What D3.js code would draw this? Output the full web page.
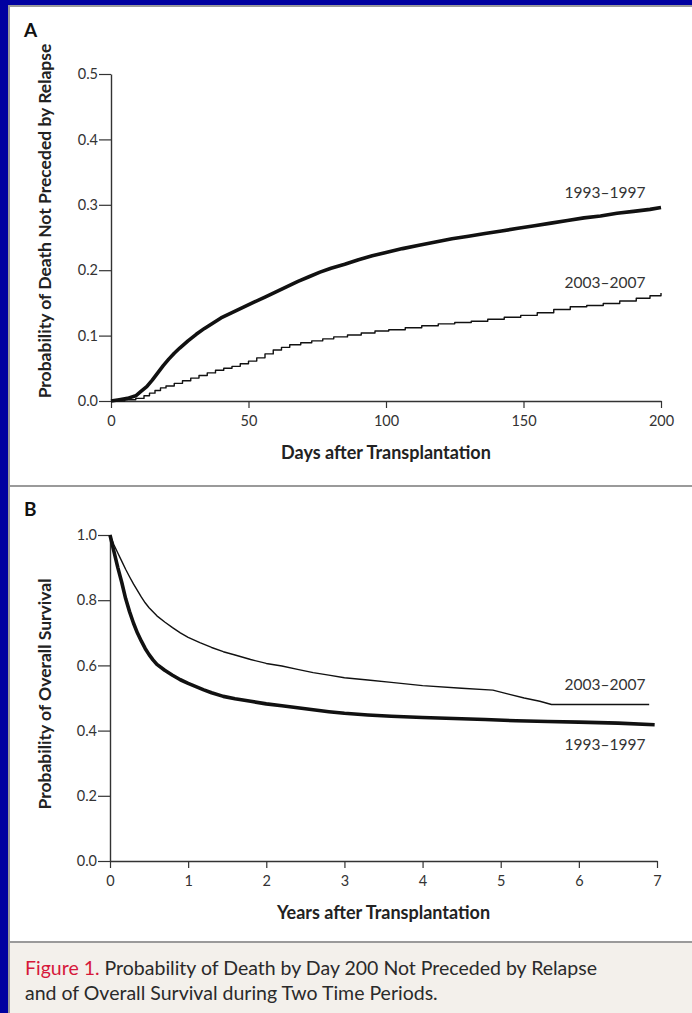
<!DOCTYPE html>
<html><head><meta charset="utf-8">
<script src="https://cdn.jsdelivr.net/npm/d3@7"></script>
<style>body{margin:0;padding:0;background:#0000a0;}svg{display:block;}</style>
</head><body>
<script>
// ---- Data ----
const daysA   = [0,3,6,9,11,13,15,17,19,21,23,25,28,31,34,37,40,44,48,52,56,60,64,68,72,76,80,85,90,95,100,106,112,118,124,130,136,142,148,154,160,166,172,178,184,190,196,200];
const a1993   = [0,0.002,0.004,0.008,0.015,0.022,0.032,0.043,0.054,0.064,0.073,0.081,0.092,0.102,0.111,0.119,0.127,0.135,0.143,0.151,0.159,0.167,0.175,0.183,0.19,0.197,0.203,0.209,0.216,0.222,0.227,0.233,0.238,0.243,0.248,0.252,0.256,0.26,0.264,0.268,0.272,0.276,0.28,0.283,0.287,0.29,0.293,0.296];
const daysA2  = [0,5,9,12,14,16,18,20,23,26,29,32,35,38,41,44,47,50,53,56,59,62,65,69,73,77,81,86,91,96,101,107,113,119,125,131,137,143,149,155,161,167,173,179,185,191,196,200];
const a2003   = [0,0.002,0.004,0.008,0.012,0.016,0.02,0.023,0.027,0.031,0.035,0.039,0.043,0.047,0.05,0.053,0.057,0.061,0.066,0.072,0.078,0.082,0.086,0.089,0.092,0.095,0.098,0.101,0.104,0.107,0.109,0.112,0.115,0.118,0.12,0.122,0.125,0.128,0.131,0.135,0.14,0.144,0.146,0.149,0.153,0.157,0.161,0.165];

const yearsB1 = [0,0.05,0.1,0.15,0.2,0.25,0.3,0.35,0.4,0.45,0.5,0.55,0.6,0.7,0.8,0.9,1.0,1.1,1.2,1.3,1.45,1.6,1.8,2.0,2.2,2.4,2.6,2.8,3.0,3.3,3.6,4.0,4.4,4.8,5.2,5.6,6.0,6.5,6.97];
const b1993   = [1,0.95,0.9,0.855,0.805,0.765,0.73,0.7,0.675,0.652,0.633,0.617,0.603,0.585,0.57,0.556,0.545,0.535,0.525,0.516,0.505,0.498,0.49,0.482,0.476,0.47,0.464,0.458,0.453,0.448,0.444,0.44,0.437,0.434,0.43,0.428,0.426,0.423,0.418];
const yearsB2 = [0,0.05,0.1,0.15,0.2,0.25,0.3,0.35,0.4,0.45,0.5,0.6,0.7,0.8,0.9,1.0,1.15,1.3,1.45,1.6,1.8,2.0,2.2,2.4,2.6,2.8,3.0,3.3,3.6,4.0,4.5,4.9,5.1,5.3,5.5,5.65,6.9];
const b2003   = [1,0.97,0.945,0.92,0.895,0.872,0.85,0.83,0.81,0.792,0.777,0.752,0.733,0.716,0.7,0.686,0.67,0.655,0.642,0.632,0.618,0.606,0.598,0.588,0.578,0.57,0.562,0.555,0.548,0.538,0.53,0.524,0.512,0.5,0.49,0.48,0.48];

const ticksA_x = [0,50,100,150,200];
const ticksA_y = [0,0.1,0.2,0.3,0.4,0.5];
const ticksB_x = [0,1,2,3,4,5,6,7];
const ticksB_y = [0,0.2,0.4,0.6,0.8,1.0];
const seriesNames = ["1993\u20131997","2003\u20132007"];

// ---- Drawing ----
const W=692,H=1013;
const FONT="Lato, 'Open Sans', sans-serif";
const svg=d3.select("body").append("svg").attr("width",W).attr("height",H);
svg.append("rect").attr("width",W).attr("height",H).attr("fill","#0000a0");
svg.append("rect").attr("x",8).attr("y",5).attr("width",W-8).attr("height",H-5).attr("fill","#fff");
svg.append("rect").attr("x",9).attr("y",942).attr("width",W-9).attr("height",H-942).attr("fill","#f3f0eb");
svg.append("line").attr("x1",9).attr("x2",W).attr("y1",6).attr("y2",6).attr("stroke","#9a9a9a").attr("stroke-width",2);
svg.append("line").attr("x1",9).attr("x2",9).attr("y1",5).attr("y2",H).attr("stroke","#9a9a9a").attr("stroke-width",2);
svg.append("line").attr("x1",9).attr("x2",W).attr("y1",486).attr("y2",486).attr("stroke","#9a9a9a").attr("stroke-width",2);
svg.append("line").attr("x1",9).attr("x2",W).attr("y1",942).attr("y2",942).attr("stroke","#9a9a9a").attr("stroke-width",2);

function panel(opts){
  const g=svg.append("g");
  const x=d3.scaleLinear().domain(opts.xd).range(opts.xr);
  const y=d3.scaleLinear().domain(opts.yd).range(opts.yr);
  const ax=g.append("g").attr("transform",`translate(0,${opts.yr[0]})`)
    .call(d3.axisBottom(x).tickValues(opts.xt).tickSize(7).tickSizeOuter(0).tickFormat(d3.format("d")));
  const ay=g.append("g").attr("transform",`translate(${opts.xr[0]},0)`)
    .call(d3.axisLeft(y).tickValues(opts.yt).tickSize(12).tickSizeOuter(0).tickFormat(d3.format(".1f")));
  [ax,ay].forEach(a=>{
    a.select(".domain").attr("stroke","#333").attr("stroke-width",1.4);
    a.selectAll(".tick line").attr("stroke","#333").attr("stroke-width",1.2);
    a.selectAll("text").attr("font-family",FONT).attr("font-size",14.5).attr("fill","#333");
  });
  ax.selectAll("text").attr("dy","1.0em");
  ay.selectAll("text").attr("x",-13);
  opts.series.forEach(s=>{
    const line=d3.line().x(d=>x(d[0])).y(d=>y(d[1])).curve(s.step?d3.curveStepAfter:d3.curveLinear);
    g.append("path").datum(d3.zip(s.x,s.y)).attr("d",line).attr("fill","none")
      .attr("stroke","#111").attr("stroke-width",s.w).attr("stroke-linejoin","round");
    g.append("text").attr("x",s.lx).attr("y",s.ly).attr("text-anchor","middle")
      .attr("font-family",FONT).attr("font-size",15.5).attr("fill","#333").text(s.name);
  });
  g.append("text").attr("x",(opts.xr[0]+opts.xr[1])/2).attr("y",opts.xlabY).attr("text-anchor","middle")
    .attr("font-family",FONT).attr("font-weight","bold").attr("font-size",18).attr("fill","#222").text(opts.xlab);
  g.append("text").attr("transform",`translate(${opts.ylabX},${opts.ylabC}) rotate(-90)`).attr("text-anchor","middle")
    .attr("font-family",FONT).attr("font-weight","bold").attr("font-size",17.5).attr("fill","#222").text(opts.ylab);
  g.append("text").attr("x",24).attr("y",opts.letterY).attr("font-family",FONT).attr("font-weight","bold")
    .attr("font-size",19).attr("fill","#111").text(opts.letter);
}

panel({xd:[0,200],xr:[111,661],yd:[0,0.5],yr:[401,74],xt:ticksA_x,yt:ticksA_y,
  series:[{x:daysA,y:a1993,w:3.6,step:false,name:seriesNames[0],lx:605,ly:198},
          {x:daysA2,y:a2003,w:1.4,step:true,name:seriesNames[1],lx:605,ly:288}],
  xlab:"Days after Transplantation",xlabY:459,ylab:"Probability of Death Not Preceded by Relapse",ylabX:51,ylabC:221,
  letter:"A",letterY:37});

panel({xd:[0,7],xr:[110,657],yd:[0,1],yr:[861,535],xt:ticksB_x,yt:ticksB_y,
  series:[{x:yearsB1,y:b1993,w:3.6,step:false,name:seriesNames[0],lx:605,ly:750},
          {x:yearsB2,y:b2003,w:1.4,step:false,name:seriesNames[1],lx:605,ly:690}],
  xlab:"Years after Transplantation",xlabY:919,ylab:"Probability of Overall Survival",ylabX:51,ylabC:694,
  letter:"B",letterY:516});

const cap=svg.append("text").attr("font-family",FONT).attr("font-size",19.5).attr("fill","#2a2a2a");
cap.append("tspan").attr("x",25).attr("y",975).attr("fill","#d6183a").text("Figure 1.");
cap.append("tspan").text(" Probability of Death by Day 200 Not Preceded by Relapse");
cap.append("tspan").attr("x",25).attr("y",1000).text("and of Overall Survival during Two Time Periods.");
</script>
</body></html>
